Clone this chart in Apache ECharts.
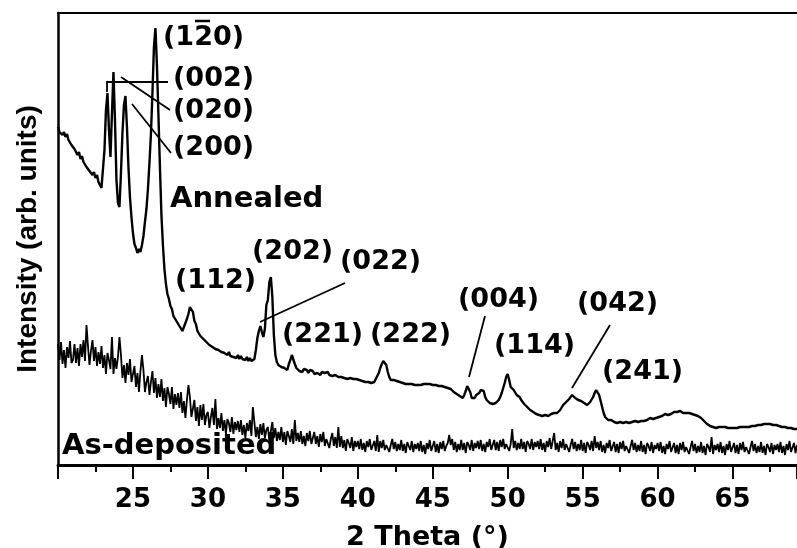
<!DOCTYPE html>
<html>
<head>
<meta charset="utf-8">
<script src="https://cdn.jsdelivr.net/npm/echarts@6/dist/echarts.min.js"></script>
<style>
html,body{margin:0;padding:0;background:#fff;}
#chart{width:797px;height:548px;}
</style>
</head>
<body>
<div id="chart"></div>
<script>
// Scan grid (2 Theta, degrees)
const scanStart = 20.0;
const scanStep = 0.1;
const xTicks = [25, 30, 35, 40, 45, 50, 55, 60, 65];

// Annealed film intensity (arb. units), one row per degree
const annealed = [
  338,333,335,330,333,328,331,325,327,320,
  322,316,317,310,313,306,309,303,305,298,
  300,294,296,290,293,287,290,283,284,277,
  275,315,355,372,335,308,352,393,345,285,
  262,258,292,332,360,369,338,298,268,248,
  232,221,217,212,216,213,220,229,243,256,
  276,302,331,372,418,437,400,350,298,250,
  220,196,181,171,166,159,156,149,148,144,
  145,139,138,134,138,139,146,151,158,157,
  153,144,141,134,133,129,129,126,126,123,
  124,120,122,118,120,116,118,115,117,113,
  115,112,114,110,113,109,111,108,110,107,
  110,106,109,106,108,105,108,104,107,104,
  104,106,115,127,134,139,133,128,136,160,
  165,183,188,168,130,110,103,100,101,98,
  99,97,98,95,101,105,110,108,101,97,
  97,94,96,93,96,94,95,92,95,93,
  94,91,93,92,93,90,93,91,92,90,
  93,90,92,89,91,90,91,88,90,88,
  89,87,89,86,88,87,89,86,88,86,
  88,85,87,84,86,83,85,83,84,82,
  84,83,86,88,92,97,101,104,105,100,
  93,88,85,84,85,83,84,82,83,81,
  82,80,81,79,81,80,81,79,80,79,
  80,78,80,79,81,80,81,79,81,79,
  80,79,80,78,79,78,79,77,78,76,
  77,76,76,74,73,73,71,70,69,68,
  67,70,74,79,81,73,67,65,67,70,
  70,72,75,77,74,68,65,63,62,62,
  61,62,62,64,65,68,72,77,82,88,
  91,85,78,76,75,73,70,69,68,65,
  63,61,60,58,56,55,53,53,52,51,
  51,50,51,49,50,50,51,49,50,51,
  51,52,52,52,53,55,57,60,61,63,
  65,66,68,70,68,67,66,65,66,64,
  63,62,61,60,62,63,65,68,72,75,
  74,70,64,58,52,48,46,45,44,45,
  44,43,45,42,44,43,44,42,44,43,
  43,42,44,43,45,44,45,43,45,44,
  45,44,46,45,47,47,48,46,48,47,
  49,48,50,49,51,51,52,50,52,51,
  52,53,51,53,52,54,53,52,54,52,
  53,52,53,51,52,50,50,49,48,47,
  45,44,42,41,40,39,39,38,38,37,
  39,38,39,38,39,38,38,37,38,37,
  38,37,38,37,39,38,39,38,39,38,
  39,38,40,39,40,39,40,40,41,40,
  41,41,42,41,42,41,42,40,41,40,
  40,39,40,38,39,38,38,37,38,37,
  37,36,37,36
];

// As-deposited film intensity (arb. units), one row per degree
const asDeposited = [
  121,105,123,101,115,97,118,107,124,102,
  105,121,102,117,99,121,108,125,104,140,
  119,100,114,125,104,118,99,113,101,119,
  97,110,91,112,105,96,128,91,107,96,
  108,128,110,87,100,82,102,90,106,83,
  84,99,78,92,73,94,110,95,73,83,
  89,70,83,94,72,87,67,81,68,86,
  64,77,58,78,71,61,78,56,71,60,
  72,57,73,52,64,47,65,80,68,48,
  50,65,44,58,39,60,45,61,40,50,
  53,37,48,57,40,66,36,47,37,52,
  34,45,31,46,42,33,48,31,43,35,
  44,33,45,30,40,27,42,34,45,29,
  58,43,28,38,26,41,30,42,27,35,
  38,24,34,43,27,37,24,33,25,38,
  23,33,20,34,29,23,36,21,45,24,
  32,23,34,21,29,19,32,24,34,21,
  23,33,21,29,18,31,23,33,19,26,
  28,17,26,32,19,28,17,38,18,29,
  17,25,14,26,22,17,28,14,24,18,
  24,16,26,15,22,13,24,18,26,15,
  16,24,14,30,13,24,17,25,15,20,
  22,13,20,26,16,23,14,21,15,25,
  14,21,12,23,19,15,24,13,21,16,
  22,14,24,13,20,11,22,16,25,14,
  15,24,13,21,12,23,16,24,14,19,
  22,30,20,26,15,23,13,21,15,25,
  15,22,12,23,20,15,25,14,22,17,
  24,16,25,14,21,13,23,18,26,15,
  17,25,15,23,14,25,18,26,16,21,
  23,14,21,36,17,24,15,22,16,26,
  16,23,13,24,21,16,26,15,23,18,
  24,16,26,15,22,13,24,18,27,16,
  17,32,15,22,13,24,17,26,15,21,
  22,13,20,26,16,23,14,21,15,25,
  14,22,12,23,20,15,24,14,29,17,
  23,15,24,13,20,12,22,17,25,14,
  15,23,13,21,12,23,16,24,14,19,
  21,12,19,25,15,22,13,20,14,24,
  13,20,11,22,19,14,23,12,20,16,
  22,14,23,12,19,11,21,16,24,13,
  14,22,12,20,11,22,15,23,13,18,
  20,11,18,24,14,21,12,19,13,23,
  12,19,10,21,18,13,28,11,20,15,
  21,13,23,12,19,10,21,15,24,13,
  14,22,12,20,11,22,15,23,13,18,
  20,11,18,24,14,21,12,19,13,23,
  12,19,10,21,18,13,22,11,20,15,
  21,13,23,12,19,10,21,15,24,13,
  14,22,12,20
];

// Reflection labels (the bar over the 2 in (1-20) is drawn separately)
const peakLabels = ['(120)', '(002)', '(020)', '(200)', '(112)', '(202)', '(022)', '(221)', '(222)', '(004)', '(114)', '(042)', '(241)'];
const sampleLabels = ['Annealed', 'As-deposited'];

function toPairs(vals) {
  return vals.map((v, i) => [Math.round((scanStart + i * scanStep) * 10) / 10, v]);
}

const chart = echarts.init(document.getElementById('chart'), null, {renderer: 'canvas'});

const hklFont = 'bold 27px "DejaVu Sans"';
const labelPos = [
  [163, 40], [173, 81], [173, 113], [173, 150], [175, 283], [252, 254], [340, 264],
  [282, 337], [370, 337], [458, 302], [494, 348], [577, 306], [602, 374]
];
const graphics = [];
peakLabels.forEach((t, i) => {
  graphics.push({
    type: 'text', left: labelPos[i][0], top: labelPos[i][1] - 16,
    style: {text: t, font: hklFont, fill: '#000'}
  });
});
// overbar (bar-2 Miller index)
graphics.push({type: 'line', shape: {x1: 195, y1: 21, x2: 210, y2: 21}, style: {stroke: '#000', lineWidth: 2.5}});
graphics.push({type: 'text', left: 170, top: 203 - 18, style: {text: sampleLabels[0], font: 'bold 29px "DejaVu Sans"', fill: '#000'}});
graphics.push({type: 'text', left: 62, top: 450 - 18, style: {text: sampleLabels[1], font: 'bold 29px "DejaVu Sans"', fill: '#000'}});
const leaders = [
  [[107, 92], [107, 82], [168, 82]],
  [[121, 77], [170, 110]],
  [[132, 104], [171, 153]],
  [[260, 322], [345, 283]],
  [[485, 316], [469, 377]],
  [[610, 325], [572, 388]]
];
leaders.forEach(p => {
  graphics.push({type: 'polyline', shape: {points: p}, style: {stroke: '#000', lineWidth: 1.8, fill: null}, z: 10});
});

chart.setOption({
  animation: false,
  backgroundColor: '#fff',
  grid: {left: 58, right: 0, top: 13, bottom: 83, containLabel: false, outerBoundsMode: 'none'},
  xAxis: [{
    type: 'value', min: 20, max: 69.3, interval: 5,
    name: '2 Theta (\u00b0)', nameLocation: 'middle', nameGap: 59,
    nameTextStyle: {fontFamily: 'DejaVu Sans', fontWeight: 'bold', fontSize: 27, color: '#000'},
    axisLine: {show: true, lineStyle: {color: '#000', width: 3}},
    axisTick: {show: true, inside: false, length: 14, lineStyle: {color: '#000', width: 2}},
    minorTick: {show: true, splitNumber: 2, length: 7, lineStyle: {color: '#000', width: 2}},
    axisLabel: {
      margin: 22, fontFamily: 'DejaVu Sans', fontWeight: 'bold', fontSize: 26, color: '#000',
      showMinLabel: false, showMaxLabel: false,
      formatter: v => (xTicks.indexOf(v) >= 0 ? String(v) : '')
    },
    splitLine: {show: false}
  }, {
    type: 'value', min: 20, max: 69.3, position: 'top',
    axisLine: {show: true, lineStyle: {color: '#000', width: 2}},
    axisTick: {show: false}, axisLabel: {show: false}, splitLine: {show: false}
  }],
  yAxis: {
    type: 'value', min: 0, max: 452,
    name: 'Intensity (arb. units)', nameLocation: 'middle', nameGap: 16, nameRotate: 90,
    nameTextStyle: {fontFamily: 'Liberation Sans', fontWeight: 'bold', fontSize: 28, color: '#000'},
    axisLine: {show: true, lineStyle: {color: '#000', width: 2.5}},
    axisTick: {show: false}, axisLabel: {show: false}, splitLine: {show: false}
  },
  series: [{
    name: 'Annealed', type: 'line', data: toPairs(annealed), showSymbol: false, symbol: 'none',
    lineStyle: {color: '#000', width: 2.4}, z: 3
  }, {
    name: 'As-deposited', type: 'line', data: toPairs(asDeposited), showSymbol: false, symbol: 'none',
    lineStyle: {color: '#000', width: 1.8}, z: 2
  }],
  graphic: graphics
});
</script>
</body>
</html>
